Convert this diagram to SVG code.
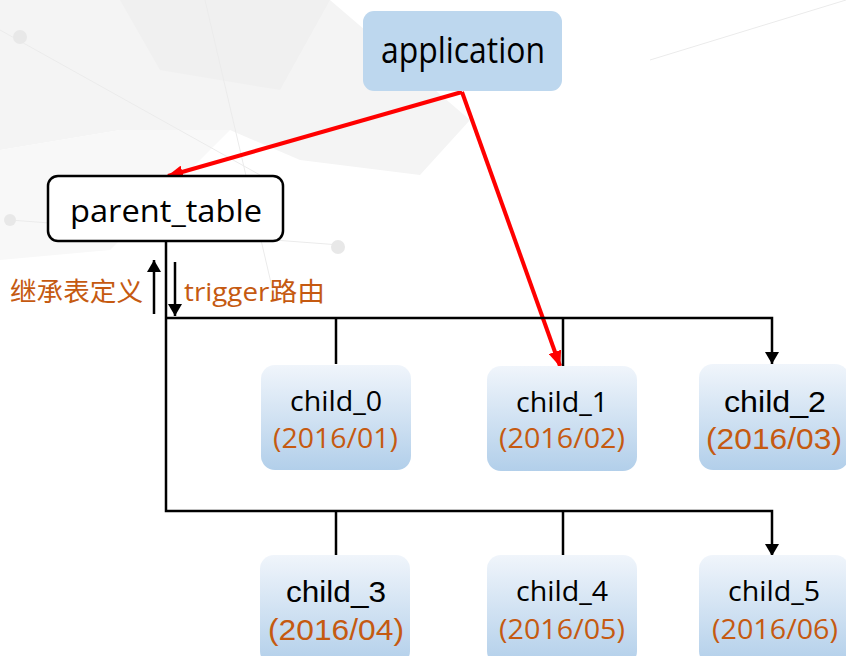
<svg xmlns="http://www.w3.org/2000/svg" width="846" height="656" viewBox="0 0 846 656">
<defs>
<linearGradient id="cg" x1="0" y1="0" x2="0" y2="1">
<stop offset="0" stop-color="#F0F5FB"/>
<stop offset="1" stop-color="#B2CFEA"/>
</linearGradient>
<marker id="ah" viewBox="0 0 12 14" refX="12" refY="7" markerWidth="12" markerHeight="14" markerUnits="userSpaceOnUse" orient="auto">
<path d="M0,0 L12,7 L0,14 Z" fill="#000"/>
</marker>
<marker id="rh" viewBox="0 0 16 13" refX="15" refY="6.5" markerWidth="16" markerHeight="13" markerUnits="userSpaceOnUse" orient="auto">
<path d="M0,0 L16,6.5 L0,13 Z" fill="#FF0000"/>
</marker>
</defs>
<style>
.lbl{font-family:"Open Sans","Noto Sans","Liberation Sans",sans-serif;fill:#000}
.date{font-family:"Open Sans","Noto Sans","Liberation Sans",sans-serif;fill:#C55A11}
.ar{font-family:"Liberation Sans",Arial,sans-serif}
.cn{font-family:"Open Sans","Noto Sans CJK SC",sans-serif;fill:#C55A11;font-size:26px}
.child{fill:url(#cg)}
.ln{stroke:#000;stroke-width:2.5;fill:none}
.red{stroke:#FF0000;stroke-width:4;fill:none}
</style>
<rect width="846" height="656" fill="#fff"/>
<g id="background">
<polygon points="0,0 330,0 470,120 420,175 300,160 230,130 120,130 0,150" fill="#F4F4F4"/>
<polygon points="0,150 120,130 230,130 110,250 0,260" fill="#F8F8F8"/>
<polygon points="120,0 330,0 280,90 160,70" fill="#F0F0F0"/>
<g stroke="#EBEBEB" stroke-width="1" fill="none">
<line x1="0" y1="30" x2="260" y2="175"/>
<line x1="205" y1="0" x2="275" y2="300"/>
<line x1="10" y1="220" x2="340" y2="245"/>
<line x1="650" y1="60" x2="846" y2="0"/>
</g>
<g fill="#E8E8E8">
<circle cx="20" cy="37" r="7"/>
<circle cx="338" cy="247" r="7"/>
<circle cx="10" cy="220" r="6"/>
</g>
</g>
<g id="connectors">
<line class="red" x1="462" y1="92" x2="168" y2="176" marker-end="url(#rh)"/>
<line class="red" x1="462" y1="92" x2="560" y2="366" marker-end="url(#rh)"/>
<polyline class="ln" points="166,241 166,511 772,511 772,556" marker-end="url(#ah)"/>
<polyline class="ln" points="166,318 772,318 772,364" marker-end="url(#ah)"/>
<line class="ln" x1="336" y1="318" x2="336" y2="364"/>
<line class="ln" x1="563" y1="318" x2="563" y2="366"/>
<line class="ln" x1="336" y1="511" x2="336" y2="555"/>
<line class="ln" x1="563" y1="511" x2="563" y2="555"/>
<line class="ln" x1="154" y1="314" x2="154" y2="260" marker-end="url(#ah)"/>
<line class="ln" x1="175" y1="262" x2="175" y2="316" marker-end="url(#ah)"/>
<text class="cn" x="10" y="301" textLength="133" lengthAdjust="spacingAndGlyphs">继承表定义</text>
<text class="cn" x="184" y="301" textLength="141" lengthAdjust="spacingAndGlyphs">trigger路由</text>
</g>
<g id="application">
<rect x="363" y="11" width="199" height="80" rx="11" fill="#BDD7EE"/>
<text class="lbl" x="381" y="63" font-size="36" textLength="164" lengthAdjust="spacingAndGlyphs">application</text>
</g>
<g id="parent_table">
<rect x="48" y="176" width="235" height="65" rx="10" fill="#fff" stroke="#000" stroke-width="2.5"/>
<text class="lbl" x="70" y="222" font-size="31" textLength="192" lengthAdjust="spacingAndGlyphs">parent_table</text>
</g>
<g id="child_0">
<rect class="child" x="261" y="365" width="150" height="105" rx="14"/>
<text class="lbl" x="290" y="411" font-size="27" textLength="92" lengthAdjust="spacingAndGlyphs">child_0</text>
<text class="date" x="273" y="448" font-size="28" textLength="125" lengthAdjust="spacingAndGlyphs">(2016/01)</text>
</g>
<g id="child_1">
<rect class="child" x="487" y="366" width="150" height="105" rx="14"/>
<text class="lbl" x="516" y="412" font-size="27" textLength="92" lengthAdjust="spacingAndGlyphs">child_1</text>
<text class="date" x="499" y="448" font-size="28" textLength="126" lengthAdjust="spacingAndGlyphs">(2016/02)</text>
</g>
<g id="child_2">
<rect class="child" x="699" y="364" width="150" height="106" rx="14"/>
<text class="lbl ar" x="724" y="412" font-size="29" textLength="102" lengthAdjust="spacingAndGlyphs">child_2</text>
<text class="date ar" x="706" y="449" font-size="30" textLength="136" lengthAdjust="spacingAndGlyphs">(2016/03)</text>
</g>
<g id="child_3">
<rect class="child" x="260" y="555" width="150" height="110" rx="14"/>
<text class="lbl ar" x="286" y="602" font-size="29" textLength="100" lengthAdjust="spacingAndGlyphs">child_3</text>
<text class="date ar" x="268" y="640" font-size="30" textLength="136" lengthAdjust="spacingAndGlyphs">(2016/04)</text>
</g>
<g id="child_4">
<rect class="child" x="487" y="555" width="150" height="110" rx="14"/>
<text class="lbl" x="516" y="601" font-size="27" textLength="92" lengthAdjust="spacingAndGlyphs">child_4</text>
<text class="date" x="499" y="639" font-size="28" textLength="126" lengthAdjust="spacingAndGlyphs">(2016/05)</text>
</g>
<g id="child_5">
<rect class="child" x="699" y="555" width="150" height="110" rx="14"/>
<text class="lbl" x="728" y="601" font-size="27" textLength="92" lengthAdjust="spacingAndGlyphs">child_5</text>
<text class="date" x="712" y="639" font-size="28" textLength="126" lengthAdjust="spacingAndGlyphs">(2016/06)</text>
</g>
</svg>
